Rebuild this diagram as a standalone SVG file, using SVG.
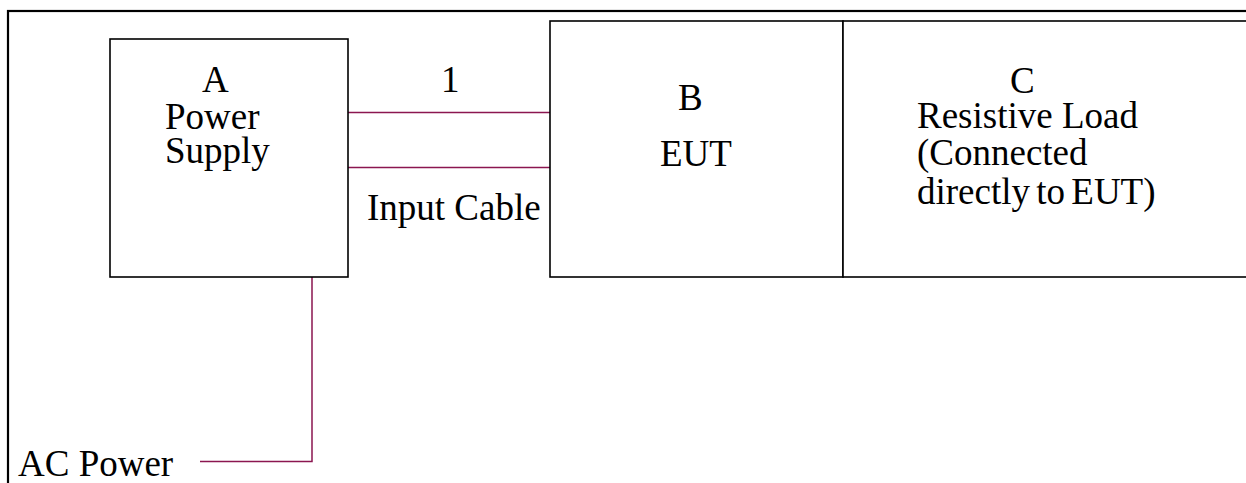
<svg xmlns="http://www.w3.org/2000/svg" width="1246" height="483" viewBox="0 0 1246 483">
<style>
.frame{fill:none;stroke:#000;stroke-width:2.2}
.box{fill:#fff;stroke:#000;stroke-width:1.6}
.wire{fill:none;stroke:#8B1650;stroke-width:1.5}
text{font-family:"Liberation Serif","Times New Roman",serif;font-size:37px;fill:#000}
</style>
<rect width="1246" height="483" fill="#fff"/>
<rect class="frame" x="8" y="11" width="1260" height="490"/>
<g id="connectors">
<line class="wire" x1="348" y1="112.5" x2="550" y2="112.5"/>
<line class="wire" x1="348" y1="167.5" x2="550" y2="167.5"/>
<polyline class="wire" points="312,277 312,461.5 200,461.5"/>
<text x="441" y="92">1</text>
<text x="367" y="220">Input Cable</text>
<text x="18" y="476">AC Power</text>
</g>
<g id="nodeA">
<rect class="box" x="110" y="39" width="238" height="238"/>
<text x="202" y="92">A</text>
<text x="165" y="129">Power</text>
<text x="165" y="163">Supply</text>
</g>
<g id="nodeB">
<rect class="box" x="550" y="21" width="293" height="256"/>
<text x="678" y="110">B</text>
<text x="660" y="166">EUT</text>
</g>
<g id="nodeC">
<rect class="box" x="843" y="21" width="420" height="256"/>
<text x="1010" y="93">C</text>
<text x="917" y="128">Resistive Load</text>
<text x="917" y="165">(Connected</text>
<text x="917" y="204" word-spacing="-3">directly to EUT)</text>
</g>
</svg>
